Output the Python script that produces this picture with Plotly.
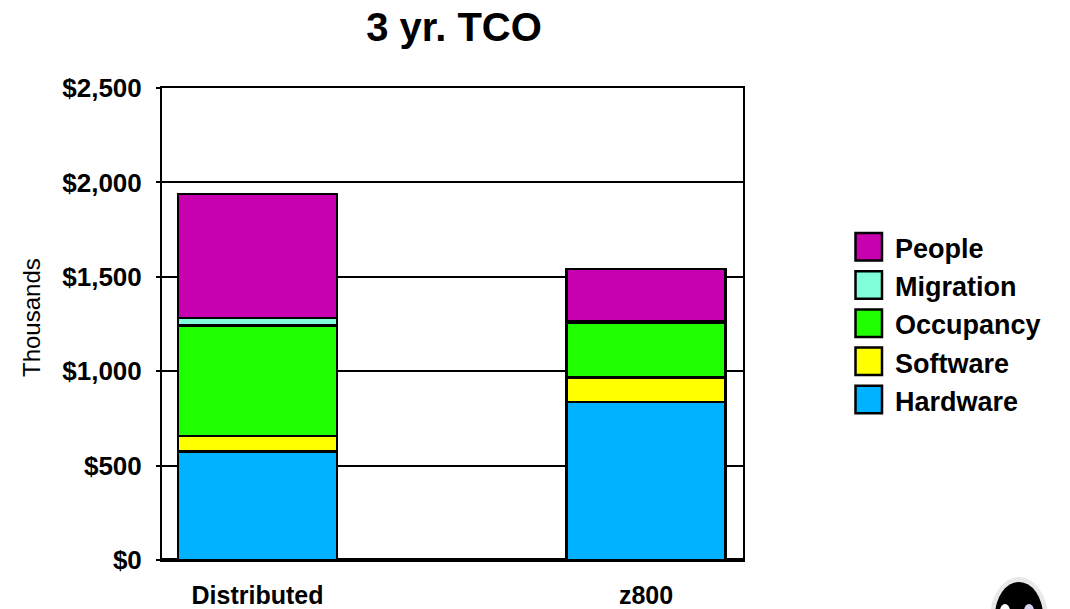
import plotly.graph_objects as go

categories = ["Distributed", "z800"]
series_names = ["Hardware", "Software", "Occupancy", "Migration", "People"]
hardware = [574, 837]
software = [84, 129]
occupancy = [583, 291]
migration = [42, 5]
people = [656, 279]
series_colors = ["#00B2FF", "#FFFF00", "#20FF00", "#7FFFDA", "#C800AF"]
y_ticks = [0, 500, 1000, 1500, 2000, 2500]

values = [hardware, software, occupancy, migration, people]

W, H = 1070, 609
L, R, T, B = 162, 743, 88, 560  # plot area pixel bounds


def px(x):
    return (x - L) / (R - L)


def py(y):
    return (B - y) / (B - T)


fig = go.Figure()
for name, vals, col in zip(series_names, values, series_colors):
    fig.add_trace(go.Bar(
        x=categories, y=vals, name=name,
        marker=dict(color=col, line=dict(color="black", width=2.5)),
        width=0.41, showlegend=False,
    ))

shapes = []
annotations = []
# manual legend (top item = last series)
legend_order = list(zip(series_names, series_colors))[::-1]
for i, (name, col) in enumerate(legend_order):
    top = 233 + i * 38.2
    shapes.append(dict(type="rect", xref="paper", yref="paper",
                       x0=px(855.5), x1=px(882), y0=py(top), y1=py(top + 27.5),
                       fillcolor=col, line=dict(color="black", width=2.5)))
    annotations.append(dict(xref="paper", yref="paper", x=px(893), y=py(top + 16),
                            xanchor="left", yanchor="middle", showarrow=False,
                            text="<b>%s</b>" % name,
                            font=dict(family="Liberation Sans, Arial", size=27, color="black")))

# y-axis title
annotations.append(dict(xref="paper", yref="paper", x=px(31), y=py(318),
                        xanchor="center", yanchor="middle", showarrow=False,
                        text="Thousands", textangle=-90,
                        font=dict(family="Liberation Sans, Arial", size=24, color="black")))

# decorative mascot fragment at bottom-right corner
shapes.append(dict(type="circle", xref="paper", yref="paper",
                   x0=px(990), x1=px(1048), y0=py(577), y1=py(660),
                   fillcolor="#E8E8E8", line=dict(width=0), layer="above"))
shapes.append(dict(type="circle", xref="paper", yref="paper",
                   x0=px(995), x1=px(1043), y0=py(582), y1=py(650),
                   fillcolor="black", line=dict(width=0), layer="above"))
shapes.append(dict(type="circle", xref="paper", yref="paper",
                   x0=px(1000), x1=px(1010), y0=py(604), y1=py(618),
                   fillcolor="white", line=dict(width=0), layer="above"))
shapes.append(dict(type="circle", xref="paper", yref="paper",
                   x0=px(1024), x1=px(1034), y0=py(604), y1=py(618),
                   fillcolor="#D8D0F0", line=dict(width=0), layer="above"))

fig.update_layout(
    width=W, height=H,
    margin=dict(l=L, r=W - R, t=T, b=H - B, pad=0),
    barmode="stack",
    paper_bgcolor="white", plot_bgcolor="white",
    title=dict(text="<b>3 yr. TCO</b>", x=px(454), xref="paper", xanchor="center",
               y=1 - 27 / H, yanchor="middle",
               font=dict(family="Liberation Sans, Arial", size=40, color="black")),
    font=dict(family="Liberation Sans, Arial", color="black"),
    shapes=shapes, annotations=annotations,
    showlegend=False,
)
fig.update_yaxes(
    range=[0, 2500], tickvals=y_ticks, automargin=False,
    ticktext=["<b>$%s</b>" % format(v, ",") for v in y_ticks],
    showgrid=True, gridcolor="black", gridwidth=2,
    showline=True, linecolor="black", linewidth=2, mirror=True,
    zeroline=True, zerolinecolor="black", zerolinewidth=3.5,
    ticks="outside", ticklen=4, tickwidth=2, tickcolor="black",
    ticklabelstandoff=9,
    tickfont=dict(family="Liberation Sans, Arial", size=26, color="black"),
)
fig.update_xaxes(
    range=[-0.2458, 1.2497], automargin=False,
    tickvals=categories, ticktext=["<b>%s</b>" % c for c in categories],
    showline=True, linecolor="black", linewidth=2, mirror=True,
    showgrid=False, ticks="", ticklabelstandoff=12,
    tickfont=dict(family="Liberation Sans, Arial", size=25, color="black"),
)

fig.write_html("out.html", config={"displayModeBar": False},
               post_script="document.body.style.margin='0';document.body.style.overflow='hidden';")
